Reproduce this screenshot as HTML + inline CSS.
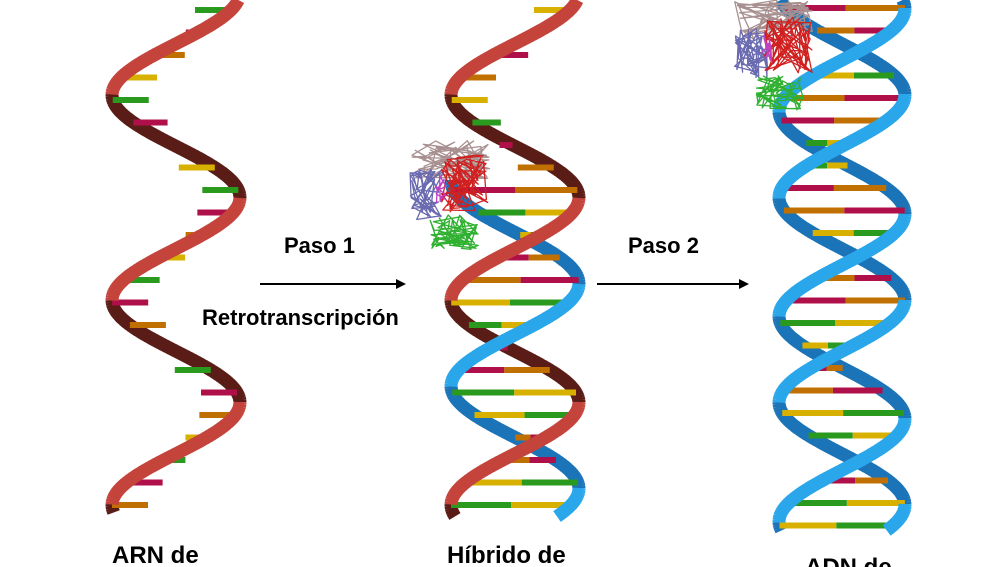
<!DOCTYPE html>
<html><head><meta charset="utf-8"><style>
body{margin:0;background:#fff;width:1000px;height:567px;overflow:hidden}
svg{display:block}
text{font-family:"Liberation Sans",sans-serif;font-weight:bold;fill:#000}
</style></head><body>
<svg id="s" width="1000" height="567" viewBox="0 0 1000 567" xmlns="http://www.w3.org/2000/svg">
<g id="g"></g>
<line x1="260" y1="284" x2="398" y2="284" stroke="#000" stroke-width="2"/>
<polygon points="406,284 396,279 396,289" fill="#000"/>
<line x1="597" y1="284" x2="740" y2="284" stroke="#000" stroke-width="2"/>
<polygon points="749,284 739,279 739,289" fill="#000"/>
<text x="284" y="253" font-size="22">Paso 1</text>
<text x="202" y="325" font-size="22">Retrotranscripción</text>
<text x="628" y="253" font-size="22">Paso 2</text>
<text x="112" y="563" font-size="24">ARN de</text>
<text x="447" y="563" font-size="24">Híbrido de</text>
<text x="805" y="575" font-size="24">ADN de</text>
</svg>
<script>
var g=document.getElementById('g'),NS='http://www.w3.org/2000/svg';
function el(t,a){var e=document.createElementNS(NS,t);for(var k in a)e.setAttribute(k,a[k]);g.appendChild(e);return e;}
var P=205;
function strand(cx,A,ph,y0,y1,front,back,layer){
 for(var y=y0;y<y1;y+=2){
  var f=function(yy){return cx-A*Math.cos(2*Math.PI*(yy-95-ph)/P);};
  var x1=f(y),x2=f(y+2.5);
  var isFront=(x2<x1);
  if((layer==0&&!isFront)||(layer==1&&isFront))
   el('line',{x1:x1,y1:y,x2:x2,y2:y+2.5,stroke:isFront?front:back,'stroke-width':13,'stroke-linecap':'butt'});
 }
}
var cols=[['#2a9a1e','#d8b000'],['#d8b000','#2a9a1e'],['#c07000','#b0104a'],['#b0104a','#c07000']];
function bars(cx,A,ph1,ph2,y0,y1,single,ci){
 var i=0;
 for(var y=y0;y<y1;y+=22.5){
  var a=cx-A*Math.cos(2*Math.PI*(y-95-ph1)/P);
  var b=cx-A*Math.cos(2*Math.PI*(y-95-ph2)/P);
  var c=cols[(i*7+ci)%4];
  if(single){
   var l=Math.min(36,Math.abs(b-a)/2);var d=(b>a)?1:-1;
   if(Math.abs(b-a)>20) el('line',{x1:a,y1:y,x2:a+d*l,y2:y,stroke:c[0],'stroke-width':6});
  } else {
   var m=(a+b)/2;
   if(Math.abs(b-a)>16){
    el('line',{x1:a,y1:y,x2:m,y2:y,stroke:c[0],'stroke-width':6});
    el('line',{x1:m,y1:y,x2:b,y2:y,stroke:c[1],'stroke-width':6});
   }
  }
  i++;
 }
}
var RF='#c4443c',RB='#5a1c16',BF='#2aa6ea',BB='#1c74b8';
strand(176,64,0,0,512,RF,RB,0);
bars(176,64,0,P*0.45,10,510,true,0);
strand(176,64,0,0,512,RF,RB,1);
strand(515,64,0,0,515,RF,RB,0);
strand(515,64,P*0.42,180,515,BF,BB,0);
bars(515,64,0,P*0.42,10,180,true,1);
bars(515,64,0,P*0.42,190,512,false,2);
strand(515,64,0,0,515,RF,RB,1);
strand(515,64,P*0.42,180,515,BF,BB,1);
strand(842,63,P*0.5,0,530,BF,BB,0);
strand(842,63,P*0.08,0,530,BF,BB,0);
bars(842,63,P*0.5,P*0.08,8,528,false,3);
strand(842,63,P*0.5,0,530,BF,BB,1);
strand(842,63,P*0.08,0,530,BF,BB,1);
var seed=3;function r(){seed=(seed*9301+49297)%233280;return seed/233280;}
function blob(x,y,w,h,col,n){
 var d='M'+(x+r()*w)+','+(y+r()*h);
 for(var i=0;i<n;i++)d+=' L'+(x+r()*w).toFixed(1)+','+(y+r()*h).toFixed(1);
 el('path',{d:d,fill:'none',stroke:col,'stroke-width':1.3,'stroke-linejoin':'round'});
}
function protein(x,y){
 blob(x,y,82,40,'#a89090',60);
 blob(x,y+28,34,52,'#6a6ab0',50);
 blob(x+30,y+15,48,58,'#d02020',70);
 blob(x+20,y+75,50,35,'#30b030',55);
 blob(x+26,y+35,12,28,'#c040c0',12);
}
protein(410,140);
protein(734,0);
</script>
</body></html>
